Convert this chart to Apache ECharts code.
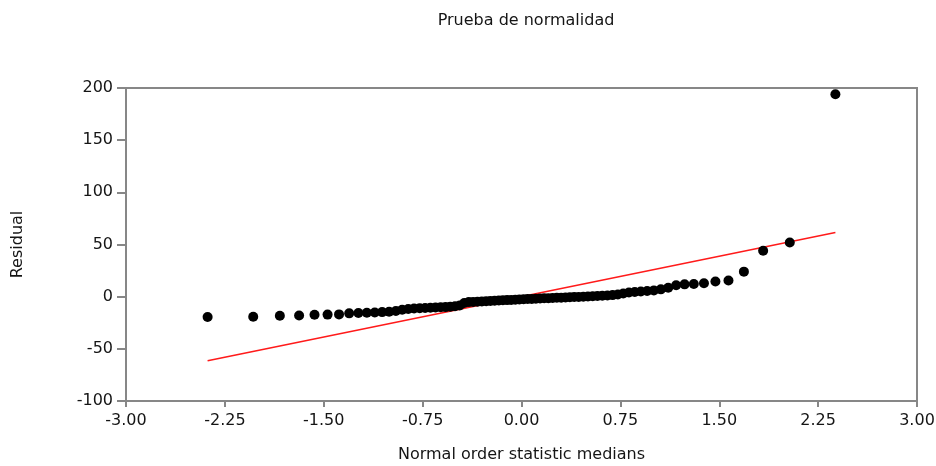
<!DOCTYPE html>
<html>
<head>
<meta charset="utf-8">
<script src="https://cdn.jsdelivr.net/npm/echarts@6/dist/echarts.min.js"></script>
<style>
  html, body { margin: 0; padding: 0; background: #ffffff; }
  #chart { width: 936px; height: 466px; }
</style>
</head>
<body>
<div id="chart"></div>
<script>
// Normal order statistic medians (x) for the 80 sorted residuals
const theoreticalQuantiles = [
  -2.381, -2.035, -1.833, -1.687, -1.570, -1.471, -1.384, -1.307, -1.237, -1.173,
  -1.113, -1.057, -1.004, -0.953, -0.905, -0.859, -0.815, -0.772, -0.731, -0.691,
  -0.652, -0.613, -0.576, -0.540, -0.504, -0.469, -0.434, -0.400, -0.367, -0.334,
  -0.301, -0.268, -0.236, -0.204, -0.172, -0.141, -0.109, -0.078, -0.047, -0.016,
   0.016,  0.047,  0.078,  0.109,  0.141,  0.172,  0.204,  0.236,  0.268,  0.301,
   0.334,  0.367,  0.400,  0.434,  0.469,  0.504,  0.540,  0.576,  0.613,  0.652,
   0.691,  0.731,  0.772,  0.815,  0.859,  0.905,  0.953,  1.004,  1.057,  1.113,
   1.173,  1.237,  1.307,  1.384,  1.471,  1.570,  1.687,  1.833,  2.035,  2.381
];

// Ordered residuals
const residuals = [
  -19.5, -19.3, -18.3, -18.0, -17.3, -17.2, -17.0, -16.0, -15.6, -15.4,
  -15.2, -14.8, -14.4, -13.8, -12.5, -11.8, -11.3, -11.0, -10.8, -10.6,
  -10.4, -10.2, -10.0,  -9.7,  -9.2,  -8.5,  -6.0,  -5.2,  -5.0,  -4.8,
   -4.6,  -4.3,  -4.1,  -3.9,  -3.7,  -3.5,  -3.3,  -3.1,  -2.9,  -2.7,
   -2.5,  -2.3,  -2.2,  -2.0,  -1.8,  -1.6,  -1.5,  -1.3,  -1.1,  -1.0,
   -0.8,  -0.6,  -0.4,  -0.2,   0.0,   0.2,   0.4,   0.6,   0.9,   1.2,
    1.5,   2.0,   3.0,   4.0,   4.5,   5.0,   5.5,   6.0,   7.0,   8.5,
   11.0,  11.8,  12.2,  12.8,  14.5,  15.5,  24.0,  44.0,  52.0, 194.0
];

// Reference line endpoints
const refLineX = [-2.381, 2.381];
const refLineY = [-61.4, 61.4];

const xTicks = { min: -3, max: 3, step: 0.75 };
const yTicks = { min: -100, max: 200, step: 50 };

const chartTitle = 'Prueba de normalidad';
const xAxisTitle = 'Normal order statistic medians';
const yAxisTitle = 'Residual';

const points = theoreticalQuantiles.map((x, i) => [x, residuals[i]]);
const linePts = refLineX.map((x, i) => [x, refLineY[i]]);

const FONT = '"DejaVu Sans", Verdana, sans-serif';
const FONT_SIZE = 16;
const TEXT_COLOR = '#151515';
const AXIS_GRAY = '#878787';

const chart = echarts.init(document.getElementById('chart'), null, { renderer: 'canvas' });
chart.setOption({
  animation: false,
  backgroundColor: '#ffffff',
  title: {
    text: chartTitle,
    left: 521,
    top: 8,
    textAlign: 'center',
    textStyle: { fontFamily: FONT, fontSize: FONT_SIZE, fontWeight: 'normal', color: TEXT_COLOR }
  },
  grid: {
    left: 126, right: 19, top: 88, bottom: 65,
    containLabel: false,
    outerBoundsMode: 'none',
    show: true, borderColor: AXIS_GRAY, borderWidth: 2, backgroundColor: 'transparent'
  },
  xAxis: {
    type: 'value',
    min: xTicks.min, max: xTicks.max, interval: xTicks.step,
    name: xAxisTitle,
    nameLocation: 'middle',
    nameGap: 46,
    nameTextStyle: { fontFamily: FONT, fontSize: FONT_SIZE, color: TEXT_COLOR },
    axisLine: { show: true, onZero: false, lineStyle: { color: AXIS_GRAY, width: 2 } },
    axisTick: { show: true, inside: false, length: 6, lineStyle: { color: AXIS_GRAY, width: 2 } },
    axisLabel: {
      fontFamily: FONT, fontSize: FONT_SIZE, color: TEXT_COLOR, margin: 12,
      formatter: v => v.toFixed(2)
    },
    splitLine: { show: false }
  },
  yAxis: {
    type: 'value',
    min: yTicks.min, max: yTicks.max, interval: yTicks.step,
    name: yAxisTitle,
    nameLocation: 'middle',
    nameGap: 100,
    nameRotate: 90,
    nameTextStyle: { fontFamily: FONT, fontSize: FONT_SIZE, color: TEXT_COLOR },
    axisLine: { show: true, onZero: false, lineStyle: { color: AXIS_GRAY, width: 2 } },
    axisTick: { show: true, inside: false, length: 9, lineStyle: { color: AXIS_GRAY, width: 2 } },
    axisLabel: { fontFamily: FONT, fontSize: FONT_SIZE, color: TEXT_COLOR, margin: 13 },
    splitLine: { show: false }
  },
  series: [
    {
      type: 'line',
      data: linePts,
      symbol: 'none',
      lineStyle: { color: '#ff1a1a', width: 1.5 },
      z: 2
    },
    {
      type: 'scatter',
      data: points,
      symbol: 'circle',
      symbolSize: 10,
      itemStyle: { color: '#000000', opacity: 1 },
      z: 3
    }
  ]
});
</script>
</body>
</html>
